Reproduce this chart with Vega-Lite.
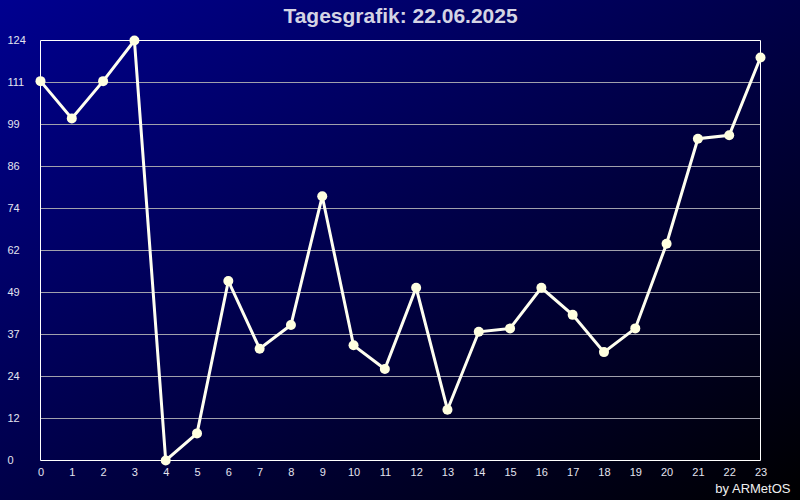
{
  "$schema": "https://vega.github.io/schema/vega-lite/v6.json",
  "width": 800,
  "height": 500,
  "autosize": {"type": "none"},
  "padding": 0,
  "background": "#000040",
  "config": {
    "view": {"stroke": null},
    "font": "Liberation Sans",
    "axisX": {
      "offset": -40, "grid": false, "domain": false, "ticks": false, "tickSize": 0,
      "labelPadding": 6, "labelFont": "Liberation Sans", "labelFontSize": 11, "labelColor": "#e4e4f0",
      "labelFlush": false, "labelOverlap": false,
      "titleFont": "Liberation Sans", "titleFontSize": 13, "titleFontWeight": "normal",
      "titleColor": "#f0f0f0", "titleAlign": "right", "titleAnchor": "end", "titleBaseline": "alphabetic",
      "titleX": 790, "titleY": 32
    },
    "axisY": {
      "offset": -40, "grid": false, "domain": false, "ticks": false, "tickSize": 0,
      "labelAlign": "left", "labelBaseline": "middle", "labelPadding": 33,
      "labelFont": "Liberation Sans", "labelFontSize": 11, "labelColor": "#e4e4f0",
      "labelFlush": false, "labelOverlap": false
    }
  },
  "datasets": {
    "hours": [
      {"h": 0, "v": 112}, {"h": 1, "v": 101}, {"h": 2, "v": 112}, {"h": 3, "v": 124},
      {"h": 4, "v": 0}, {"h": 5, "v": 8}, {"h": 6, "v": 53}, {"h": 7, "v": 33},
      {"h": 8, "v": 40}, {"h": 9, "v": 78}, {"h": 10, "v": 34}, {"h": 11, "v": 27},
      {"h": 12, "v": 51}, {"h": 13, "v": 15}, {"h": 14, "v": 38}, {"h": 15, "v": 39},
      {"h": 16, "v": 51}, {"h": 17, "v": 43}, {"h": 18, "v": 32}, {"h": 19, "v": 39},
      {"h": 20, "v": 64}, {"h": 21, "v": 95}, {"h": 22, "v": 96}, {"h": 23, "v": 119}
    ],
    "grid": [
      {"g": 12.4}, {"g": 24.8}, {"g": 37.2}, {"g": 49.6}, {"g": 62},
      {"g": 74.4}, {"g": 86.8}, {"g": 99.2}, {"g": 111.6}
    ],
    "one": [{"k": 1, "title": "Tagesgrafik: 22.06.2025", "tx": 11.5, "ty": 129.2}]
  },
  "layer": [
    {
      "data": {"name": "one"},
      "mark": {
        "type": "rect",
        "fill": {
          "gradient": "linear",
          "x1": 0, "y1": 0, "x2": 1, "y2": 1,
          "stops": [
            {"offset": 0, "color": "#000090"},
            {"offset": 1, "color": "#000000"}
          ]
        }
      },
      "encoding": {}
    },
    {
      "data": {"name": "grid"},
      "mark": {"type": "rule", "color": "#a0a0ac", "strokeWidth": 1},
      "encoding": {
        "x": {"datum": 0, "type": "quantitative",
          "axis": {"zindex": 2, "values": [0,1,2,3,4,5,6,7,8,9,10,11,12,13,14,15,16,17,18,19,20,21,22,23], "format": "d", "title": "by ARMetOS"}},
        "x2": {"datum": 23},
        "y": {"field": "g", "type": "quantitative",
          "axis": {"zindex": 2, "values": [0, 12.4, 24.8, 37.2, 49.6, 62, 74.4, 86.8, 99.2, 111.6, 124], "labelExpr": "floor(datum.value)", "title": null}}
      }
    },
    {
      "data": {"name": "one"},
      "mark": {"type": "rect", "fill": null, "stroke": "#ffffff", "strokeWidth": 1},
      "encoding": {
        "x": {"datum": 0, "type": "quantitative",
          "axis": {"zindex": 2, "values": [0,1,2,3,4,5,6,7,8,9,10,11,12,13,14,15,16,17,18,19,20,21,22,23], "format": "d", "title": "by ARMetOS"}},
        "x2": {"datum": 23},
        "y": {"datum": 0, "type": "quantitative",
          "axis": {"zindex": 2, "values": [0, 12.4, 24.8, 37.2, 49.6, 62, 74.4, 86.8, 99.2, 111.6, 124], "labelExpr": "floor(datum.value)", "title": null}},
        "y2": {"datum": 124}
      }
    },
    {
      "data": {"name": "one"},
      "mark": {
        "type": "text", "font": "Liberation Sans", "fontSize": 21, "fontWeight": "bold",
        "color": "#d4d4e4", "align": "center", "baseline": "alphabetic"
      },
      "encoding": {
        "x": {"field": "tx", "type": "quantitative",
          "axis": {"zindex": 2, "values": [0,1,2,3,4,5,6,7,8,9,10,11,12,13,14,15,16,17,18,19,20,21,22,23], "format": "d", "title": "by ARMetOS"}},
        "y": {"field": "ty", "type": "quantitative",
          "axis": {"zindex": 2, "values": [0, 12.4, 24.8, 37.2, 49.6, 62, 74.4, 86.8, 99.2, 111.6, 124], "labelExpr": "floor(datum.value)", "title": null}},
        "text": {"field": "title"}
      }
    },
    {
      "data": {"name": "hours"},
      "mark": {
        "type": "line", "color": "#fffff0", "strokeWidth": 3,
        "point": {"filled": true, "size": 100, "color": "#ffffe0", "opacity": 1}
      },
      "encoding": {
        "x": {
          "field": "h", "type": "quantitative",
          "scale": {"domain": [0, 23], "range": [40.5, 760.5], "nice": false, "zero": false, "clamp": false},
          "axis": {"zindex": 2, "values": [0,1,2,3,4,5,6,7,8,9,10,11,12,13,14,15,16,17,18,19,20,21,22,23], "format": "d", "title": "by ARMetOS"}
        },
        "y": {
          "field": "v", "type": "quantitative",
          "scale": {"domain": [0, 124], "range": [460.5, 40.5], "nice": false, "zero": false, "clamp": false},
          "axis": {"zindex": 2, "values": [0, 12.4, 24.8, 37.2, 49.6, 62, 74.4, 86.8, 99.2, 111.6, 124], "labelExpr": "floor(datum.value)", "title": null}
        }
      }
    }
  ]
}
